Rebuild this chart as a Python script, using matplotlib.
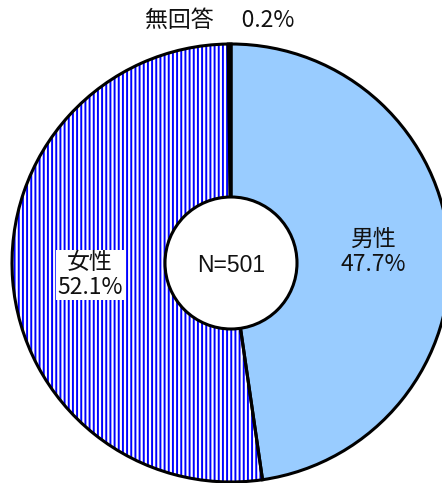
import matplotlib
matplotlib.use('Agg')
import matplotlib.pyplot as plt
from matplotlib.patches import Circle

categories = ['男性', '女性', '無回答']
values = [47.7, 52.1, 0.2]
total_n = 501

plt.rcParams['font.family'] = ['Noto Sans CJK JP', 'DejaVu Sans']
plt.rcParams['hatch.linewidth'] = 1.4

W, H = 442, 483
fig = plt.figure(figsize=(W / 100, H / 100), dpi=100)
ax = fig.add_axes([0, 0, 1, 1])
R = 219.0
cx, cy = 231.0, 263.0

def px(x, y):
    return ((x - cx) / R, (cy - y) / R)

# fills
wedges, _ = ax.pie(values, startangle=90, counterclock=False, radius=1,
                   colors=['#99CCFF', 'white', 'black'],
                   wedgeprops=dict(linewidth=0))
wedges[1].set_hatch('||||')
wedges[1].set_edgecolor('#0000FF')
wedges[1].set_linewidth(0)
# outlines
ax.pie(values, startangle=90, counterclock=False, radius=1,
       wedgeprops=dict(fill=False, edgecolor='black', linewidth=2.2))

ax.add_patch(Circle((0, 0), 66 / R, facecolor='white', edgecolor='black', linewidth=2.2, zorder=5))
ax.text(*px(231, 266), f'N={total_n}', ha='center', va='center', fontsize=16.5,
        family=['Liberation Sans', 'DejaVu Sans'], color='#111111', zorder=6)

fs = 16.5
ax.text(*px(373, 252), f'{categories[0]}\n{values[0]}%', ha='center', va='center',
        fontsize=fs, linespacing=1.1, color='#111111', zorder=6)
ax.text(*px(90, 275), f'{categories[1]}\n{values[1]}%', ha='center', va='center',
        fontsize=fs, linespacing=1.1, color='#111111', zorder=6,
        bbox=dict(facecolor='white', edgecolor='none', pad=1.0))
ax.text(*px(220, 20), f'{categories[2]}\u3000 {values[2]}%', ha='center', va='center',
        fontsize=fs, color='#111111', zorder=6)

ax.set_aspect('equal')
ax.set_xlim(-cx / R, (W - cx) / R)
ax.set_ylim(-(H - cy) / R, cy / R)
ax.axis('off')
fig.savefig('out.png', dpi=100)
